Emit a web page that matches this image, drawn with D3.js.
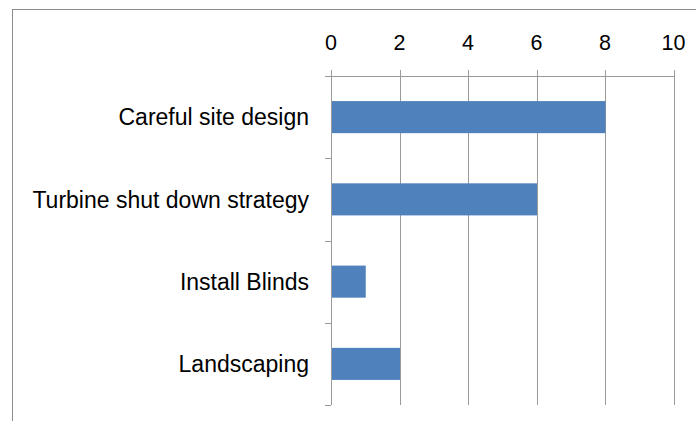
<!DOCTYPE html>
<html><head><meta charset="utf-8">
<script src="https://cdn.jsdelivr.net/npm/d3@7"></script>
<style>html,body{margin:0;padding:0;background:#fff;}svg{display:block;}</style>
</head><body>
<script>
const categories = ["Careful site design", "Turbine shut down strategy", "Install Blinds", "Landscaping"];
const values = [8, 6, 1, 2];
const tickValues = [0, 2, 4, 6, 8, 10];

const W = 696, H = 421;
const svg = d3.select("body").append("svg").attr("width", W).attr("height", H);
svg.append("rect").attr("x", 12.5).attr("y", 9.5).attr("width", 800).attr("height", 600)
  .attr("fill", "#fff").attr("stroke", "#8c8c8c").attr("stroke-width", 1);

const x = d3.scaleLinear().domain([0, 10]).range([331, 673.5]);
const y = d3.scaleBand().domain(categories).range([76, 405]).paddingInner(0.61).paddingOuter(0.305);
const font = "'Liberation Sans', Arial, sans-serif";
const grid = "#9a9a9a";

// gridlines
svg.append("g").selectAll("line").data(tickValues).join("line")
  .attr("x1", d => Math.round(x(d)) + 0.5).attr("x2", d => Math.round(x(d)) + 0.5)
  .attr("y1", 70).attr("y2", 405).attr("stroke", grid).attr("stroke-width", 1);

// top axis line
svg.append("line").attr("x1", 325).attr("x2", Math.round(x(10)) + 1).attr("y1", 76.5).attr("y2", 76.5)
  .attr("stroke", grid);

// tick labels
svg.append("g").selectAll("text").data(tickValues).join("text")
  .attr("x", d => x(d)).attr("y", 50).attr("text-anchor", "middle")
  .attr("font-family", font).attr("font-size", 21.5).attr("fill", "#000").text(d => d);

// bars
svg.append("g").selectAll("rect").data(categories).join("rect")
  .attr("x", x(0) + 0.5).attr("y", d => y(d))
  .attr("width", (d, i) => x(values[i]) - x(0)).attr("height", y.bandwidth())
  .attr("fill", "#4f81bd");

// left axis line and ticks
const bounds = categories.map(c => y(c) - y.step() * y.paddingInner() / 2).concat([405]);
svg.append("line").attr("x1", 331.5).attr("x2", 331.5).attr("y1", 76).attr("y2", 405).attr("stroke", grid);
svg.append("g").selectAll("line").data(bounds).join("line")
  .attr("x1", 325).attr("x2", 331).attr("y1", d => Math.round(d) + 0.5).attr("y2", d => Math.round(d) + 0.5)
  .attr("stroke", grid);

// category labels
svg.append("g").selectAll("text").data(categories).join("text")
  .attr("x", 309).attr("y", d => y(d) + y.bandwidth() / 2).attr("dy", "0.36em")
  .attr("text-anchor", "end").attr("font-family", font).attr("font-size", 23)
  .attr("fill", "#000").text(d => d);
</script>
</body></html>
